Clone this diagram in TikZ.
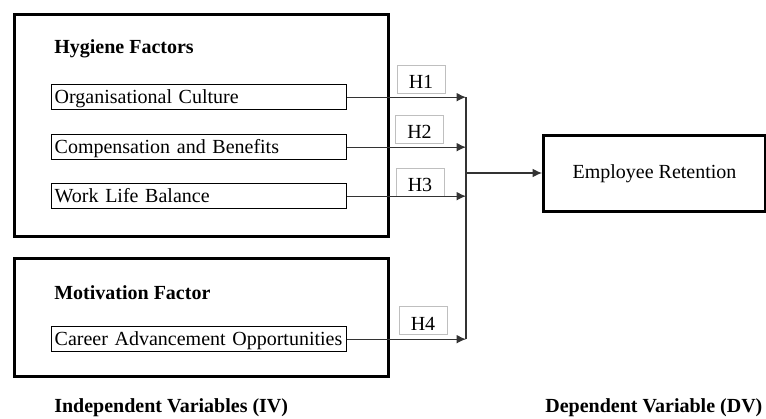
\documentclass[tikz,border=0pt]{standalone}
\usepackage{fontspec}
\setmainfont{Liberation Serif}
\usetikzlibrary{arrows.meta}
\usetikzlibrary{positioning}
\tikzset{groupbox/.style = {draw, line width=1.8pt, anchor=north west, inner sep=0pt}}
\tikzset{varbox/.style = {draw, line width=0.8pt, anchor=north west,
                          minimum height=15pt, text width=173.4pt,
                          inner xsep=1.8pt, inner ysep=0pt,
                          text height=9pt, text depth=1pt, align=left}}
\tikzset{hbox/.style = {draw=black!25, line width=0.6pt, minimum width=28.8pt,
                        minimum height=16.8pt, inner sep=0pt,
                        text height=11pt, text depth=0pt}}
\tikzset{title/.style = {anchor=base west, inner sep=0pt,
                         font=\fontsize{12pt}{14pt}\selectfont\bfseries}}
\tikzset{link/.style = {draw=black!80, line width=0.7pt}}
\tikzset{tip/.style = {-{Latex[length=5.6pt, width=5.2pt]}}}

\begin{document}
\begin{tikzpicture}[x=0.6pt, y=-0.6pt,
    every node/.style={font=\fontsize{12pt}{14pt}\selectfont}]
      \useasboundingbox (0, 0) rectangle (766, 419);
      % independent variables
      \node [groupbox, minimum width=224.4pt, minimum height=133.2pt] (hyg) at (13, 13) {};
      \node [title] (hygT) at (54, 54) {Hygiene Factors};
      \node [varbox] (org) at (51, 84) {Organisational Culture};
      \node [varbox] (comp) at (51, 134) {Compensation and Benefits};
      \node [varbox] (wlb) at (51, 183) {Work Life Balance};
      \node [groupbox, minimum width=224.4pt, minimum height=70.8pt] (mot) at (13, 257) {};
      \node [title] (motT) at (54, 300) {Motivation Factor};
      \node [varbox] (car) at (51, 326) {Career Advancement Opportunities};
      % hypotheses
      \node [hbox] (h1) at (421, 79.5) {H1};
      \node [hbox] (h2) at (419.5, 129.5) {H2};
      \node [hbox] (h3) at (420, 182.5) {H3};
      \node [hbox] (h4) at (423, 321) {H4};
      % dependent variable
      \node [groupbox, minimum width=133.2pt, minimum height=45.6pt] (er) at (542, 134) {};
      \node (erT) at (er.center) {Employee Retention};
      \coordinate (bus) at (466, 173);
      \draw [link, tip] (org.east) -- (org.east -| bus);
      \draw [link, tip] (comp.east) -- (comp.east -| bus);
      \draw [link, tip] (wlb.east) -- (wlb.east -| bus);
      \draw [link, tip] (car.east) -- (car.east -| bus);
      \draw [link] (org.east -| bus) -- (car.east -| bus);
      \draw [link, tip] (bus) -- (bus -| er.west);
      \node [title] (ivT) at (54, 413) {Independent Variables (IV)};
      \node [title] (dvT) at (545, 413) {Dependent Variable (DV)};
    \end{tikzpicture}
\end{document}
